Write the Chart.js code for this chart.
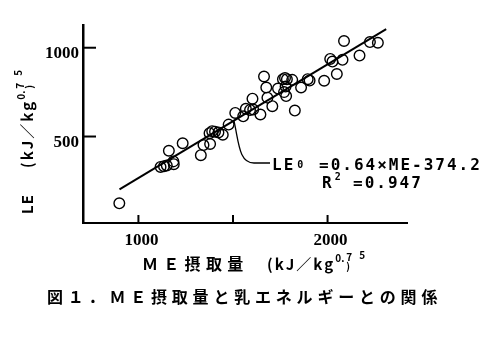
<!DOCTYPE html>
<html lang="ja">
<head>
<meta charset="utf-8">
<title>ME摂取量と乳エネルギーとの関係</title>
<script src="https://cdn.jsdelivr.net/npm/chart.js@4.4.1/dist/chart.umd.min.js"></script>
<style>
  html, body { margin: 0; padding: 0; background: #fff; }
  canvas { display: block; }
</style>
</head>
<body>
<canvas id="chart" width="488" height="340"></canvas>
<script>
// ME intake (kJ/kg^0.75) and milk energy LE (kJ/kg^0.75)
const meIntake = [899, 1117, 1135, 1150, 1187, 1185, 1161, 1234, 1330, 1344, 1379, 1376, 1390, 1405,
  1423, 1446, 1477, 1512, 1554, 1568, 1590, 1607, 1603, 1645, 1664, 1676, 1682, 1708, 1738, 1764,
  1775, 1785, 1778, 1781, 1770, 1813, 1827, 1860, 1895, 1905, 1982, 2014, 2026, 2049, 2079, 2087,
  2169, 2224, 2266];
const milkEnergy = [124, 329, 333, 337, 344, 360, 420, 462, 395, 452, 458, 519, 530, 527,
  523, 510, 567, 633, 614, 656, 650, 652, 713, 624, 838, 776, 719, 671, 770, 823,
  830, 823, 781, 728, 750, 819, 646, 776, 823, 815, 814, 937, 922, 852, 932, 1038,
  956, 1032, 1028];

// regression LE0 = 0.64 x ME - 374.2
const fitSlope = 0.64;
const fitIntercept = -374.2;
const fitRange = [900, 2310];
const leaderAt = 1505;

const xTickValues = [1000, 1500, 2000];
const xTickLabels = ['1000', '', '2000'];
const yTickValues = [500, 1000];
const yTickLabels = ['500', '1000'];

const points = meIntake.map((v, i) => ({ x: v, y: milkEnergy[i] }));
const fitLine = fitRange.map(v => ({ x: v, y: fitSlope * v + fitIntercept }));

const CJK = '"Noto Sans CJK JP", "Noto Sans", sans-serif';

// draw text char by char with extra spacing, returns end x
function spaced(ctx, text, x, y, gap) {
    for (const ch of text) {
        ctx.fillText(ch, x, y);
        x += ctx.measureText(ch).width + gap;
    }
    return x - gap;
}

// unit "(kJ／kg^0.75)" written the way the scan has it
function unit(ctx, x, y) {
    ctx.font = 'bold 15px ' + CJK;
    x = spaced(ctx, '(kJ／kg', x, y, 2);
    ctx.font = 'bold 10px ' + CJK;
    ctx.fillText('0.', x + 2, y - 8);
    ctx.fillText(')', x + 13, y);
    ctx.fillText('7', x + 13, y - 9);
    ctx.fillText('5', x + 26, y - 11);
}

const decorations = {
    id: 'decorations',
    afterDraw(chart) {
        const { ctx, chartArea: a, scales: { x, y } } = chart;
        ctx.save();
        ctx.strokeStyle = '#000';
        ctx.fillStyle = '#000';
        ctx.lineWidth = 2;

        // ticks point inward
        ctx.font = 'bold 17px "Liberation Serif", serif';
        ctx.textAlign = 'center';
        ctx.textBaseline = 'alphabetic';
        xTickValues.forEach((v, i) => {
            const px = x.getPixelForValue(v);
            ctx.beginPath();
            ctx.moveTo(px, a.bottom);
            ctx.lineTo(px, a.bottom - 8);
            ctx.stroke();
            if (xTickLabels[i]) ctx.fillText(xTickLabels[i], px + 3, a.bottom + 22);
        });
        ctx.textAlign = 'right';
        yTickValues.forEach((v, i) => {
            const py = y.getPixelForValue(v);
            ctx.beginPath();
            ctx.moveTo(a.left, py);
            ctx.lineTo(a.left + 13, py);
            ctx.stroke();
            ctx.fillText(yTickLabels[i], a.left - 4, py + 10);
        });

        // x axis title
        ctx.textAlign = 'left';
        ctx.font = 'bold 16px ' + CJK;
        spaced(ctx, 'ＭＥ摂取量', 142, 270, 5.3);
        unit(ctx, 267, 270);

        // y axis title, rotated
        ctx.save();
        ctx.translate(33, 214);
        ctx.rotate(-Math.PI / 2);
        ctx.font = 'bold 15px ' + CJK;
        spaced(ctx, 'LE', 0, 0, 1);
        unit(ctx, 46, 0);
        ctx.restore();

        // leader from the regression line to the equation
        const sx = x.getPixelForValue(leaderAt);
        const sy = y.getPixelForValue(fitSlope * leaderAt + fitIntercept);
        ctx.lineWidth = 1.3;
        ctx.beginPath();
        ctx.moveTo(sx, sy);
        ctx.bezierCurveTo(sx + 5, sy + 22, sx + 5, 163, sx + 20, 163);
        ctx.lineTo(270, 163);
        ctx.stroke();

        // equation
        ctx.font = 'bold 16px "DejaVu Sans Mono", monospace';
        let ex = spaced(ctx, 'LE', 272, 170, 2);
        ctx.font = 'bold 10px "DejaVu Sans Mono", monospace';
        ctx.fillText('0', ex + 4, 168);
        ctx.font = 'bold 16px "DejaVu Sans Mono", monospace';
        spaced(ctx, '=0.64×ME-374.2', 319, 170, 2);
        ex = spaced(ctx, 'R', 322, 188, 2);
        ctx.font = 'bold 10px "DejaVu Sans Mono", monospace';
        ctx.fillText('2', ex + 3, 180);
        ctx.font = 'bold 16px "DejaVu Sans Mono", monospace';
        spaced(ctx, '=0.947', 353, 188, 2);

        // caption
        ctx.font = 'bold 16px ' + CJK;
        spaced(ctx, '図１．ＭＥ摂取量と乳エネルギーとの関係', 47, 303, 4.8);
        ctx.restore();
    }
};

new Chart(document.getElementById('chart').getContext('2d'), {
    type: 'scatter',
    data: {
        datasets: [{
            label: 'LE',
            data: points,
            pointRadius: 5.3,
            pointHoverRadius: 5.3,
            pointBorderWidth: 1.4,
            borderColor: '#000',
            backgroundColor: 'rgba(0,0,0,0)'
        }, {
            type: 'line',
            label: 'fit',
            data: fitLine,
            borderColor: '#000',
            borderWidth: 2,
            pointRadius: 0,
            fill: false,
            tension: 0
        }]
    },
    options: {
        responsive: false,
        animation: false,
        devicePixelRatio: 1,
        layout: { padding: { left: 83, right: 81, top: 25, bottom: 117 } },
        plugins: {
            legend: { display: false },
            tooltip: { enabled: false }
        },
        scales: {
            x: {
                type: 'linear',
                min: 707,
                max: 2420,
                ticks: { display: false },
                grid: { display: false, drawTicks: false },
                border: { display: true, color: '#000', width: 2 }
            },
            y: {
                type: 'linear',
                min: 13,
                max: 1128,
                ticks: { display: false },
                grid: { display: false, drawTicks: false },
                border: { display: true, color: '#000', width: 2.5 }
            }
        }
    },
    plugins: [decorations]
});
</script>
</body>
</html>
